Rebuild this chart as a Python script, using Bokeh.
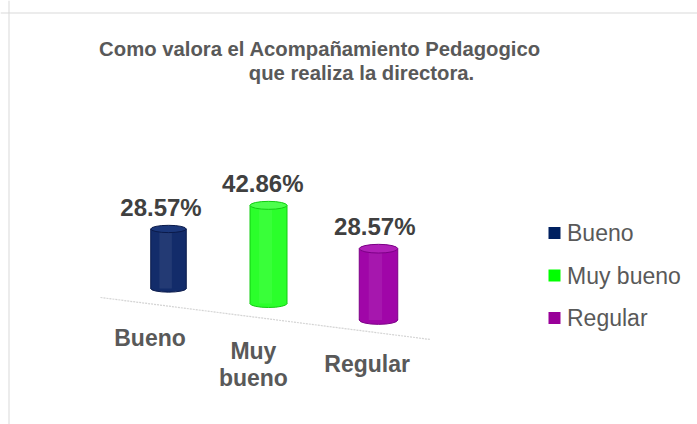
from bokeh.plotting import figure
from bokeh.models import Range1d, Span
from bokeh.core.properties import value
from bokeh.embed import file_html
from bokeh.resources import INLINE

# ---- data ----
categories = ["Bueno", "Muy bueno", "Regular"]
percentages = [28.57, 42.86, 28.57]
value_labels = ["28.57%", "42.86%", "28.57%"]
title_lines = ["Como valora el Acompañamiento Pedagogico", "que realiza la directora."]

# ---- styling ----
body_colors = ["#132c6a", "#2bff2b", "#a006a8"]
cap_colors = ["#1b377a", "#4dff4d", "#b020b8"]
edge_colors = ["#0a1a4a", "#12cc12", "#7c0086"]
legend_colors = ["#002060", "#00ff00", "#990099"]
FONT = "Liberation Sans"
GREY = "#595959"
MID = 0.36   # distance from alphabetic baseline to text middle, in em

W, H = 697, 424
PX_PER_U = 100.0
PX_PER_V = 2.29
X0_PX, Y0_PX = 168.0, 288.0


def px2u(px):
    return (px - X0_PX) / PX_PER_U


def py2v(py):
    return (Y0_PX - py) / PX_PER_V


p = figure(width=W, height=H, output_backend="svg", toolbar_location=None,
           x_range=Range1d(px2u(0), px2u(W)),
           y_range=Range1d(py2v(H), py2v(0)),
           min_border=0, outline_line_color=None)
p.axis.visible = False
p.grid.visible = False
p.background_fill_color = "white"
p.border_fill_color = "white"

# chart frame (left & top edges visible in the window)
p.add_layout(Span(location=px2u(8.5), dimension="height", line_color="#d9d9d9", line_width=1))
p.add_layout(Span(location=py2v(12.5), dimension="width", line_color="#d9d9d9", line_width=1))

# perspective floor edge
p.line([px2u(100), px2u(430)], [py2v(297), py2v(339)],
       line_color="#c9c9c9", line_width=1.2, line_dash="2 1", line_alpha=0.8)

floor_slope = -15.0 / PX_PER_V   # v units per x unit (perspective floor)
cap_h = 8.0 / PX_PER_V
VAL_FS, CAT_FS, LEG_FS, TTL_FS = 24, 23, 23, 20.3
for i, (cat, val, lab) in enumerate(zip(categories, percentages, value_labels)):
    xpos = i * (1 + 0.05 * (i - 1))          # perspective spacing
    f = 1 + 0.09 * (i - 1)                   # perspective scale
    w = 0.37 * (1 + 0.04 * (i - 1))
    ch = cap_h * f
    base = floor_slope * xpos
    top = base + val * f
    # bottom cap, body, top cap
    p.ellipse(x=[xpos], y=[base], width=w, height=ch, fill_color=body_colors[i],
              line_color=edge_colors[i], line_width=1)
    p.vbar(x=[xpos], width=w, bottom=[base], top=[top], fill_color=body_colors[i],
           line_color=None)
    p.segment(x0=[xpos - w / 2, xpos + w / 2], y0=[base, base],
              x1=[xpos - w / 2, xpos + w / 2], y1=[top, top],
              line_color=edge_colors[i], line_width=1)
    p.vbar(x=[xpos - w * 0.08], width=w * 0.35, bottom=[base], top=[top],
           fill_color="white", fill_alpha=0.07, line_color=None)
    p.ellipse(x=[xpos], y=[top], width=w, height=ch, fill_color=cap_colors[i],
              line_color=edge_colors[i], line_width=1)
    # value label
    lx = xpos - (7.5 - 1.8 * xpos) / PX_PER_U
    p.text(x=[lx], y=[top + ch / 2 + (9 + MID * VAL_FS) / PX_PER_V], text=[lab],
           text_font=value(FONT), text_font_style="bold", text_font_size=f"{VAL_FS}px",
           text_color="#404040", text_align="center", text_baseline="middle")
    # category label (wrapped)
    cx = xpos - (18.5 - 3.4 * xpos) / PX_PER_U
    cy = base - (58 - 2.5 * xpos - MID * CAT_FS) / PX_PER_V
    lines = cat.split(" ") if len(cat) > 8 else [cat]
    for k, line in enumerate(lines):
        p.text(x=[cx], y=[cy - k * 27 / PX_PER_V], text=[line],
               text_font=value(FONT), text_font_style="bold", text_font_size=f"{CAT_FS}px",
               text_color=GREY, text_align="center", text_baseline="middle")

# title
for line, cx_px, base_py in zip(title_lines, [319.5, 361.0], [56.0, 80.0]):
    p.text(x=[px2u(cx_px)], y=[py2v(base_py - MID * TTL_FS)], text=[line],
           text_font=value(FONT), text_font_style="bold", text_font_size=f"{TTL_FS}px",
           text_color=GREY, text_align="center", text_baseline="middle")

# legend
leg_sq_x = px2u(554)
leg_txt_x = px2u(566.5)
leg_rows_py = [232.5, 275.0, 317.5]
for i, cat in enumerate(categories):
    yv = py2v(leg_rows_py[i])
    p.scatter(x=[leg_sq_x], y=[yv], marker="square", size=12,
              fill_color=legend_colors[i], line_color=None)
    p.text(x=[leg_txt_x], y=[yv], text=[cat], text_font=value(FONT),
           text_font_size=f"{LEG_FS}px", text_color=GREY, text_align="left",
           text_baseline="middle")

open("out.html", "w").write(file_html(p, INLINE))
